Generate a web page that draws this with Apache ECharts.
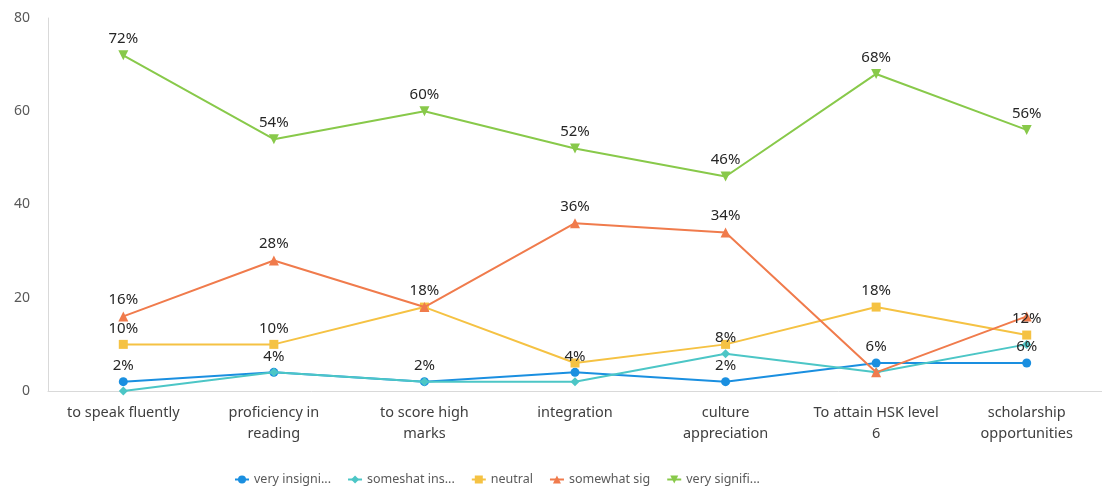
<!DOCTYPE html>
<html>
<head>
<meta charset="utf-8">
<title>Motivation survey</title>
<script src="https://cdn.jsdelivr.net/npm/echarts@6/dist/echarts.min.js"></script>
<style>
  html, body { margin: 0; padding: 0; background: #ffffff; }
  #chart { width: 1102px; height: 488px; }
</style>
</head>
<body>
<div id="chart"></div>
<script>
// Categories along the x axis
const categories = [
  'to speak fluently',
  'proficiency in\nreading',
  'to score high\nmarks',
  'integration',
  'culture\nappreciation',
  'To attain HSK level\n6',
  'scholarship\nopportunities'
];

// Y axis ticks
const yTicks = [0, 20, 40, 60, 80];

// Series names (as shown in the legend)
const seriesNames = ['very insigni...', 'someshat ins...', 'neutral', 'somewhat sig', 'very signifi...'];

// Percent of respondents per category
const veryInsignificant     = [2, 4, 2, 4, 2, 6, 6];
const somewhatInsignificant = [0, 4, 2, 2, 8, 4, 10];
const neutral               = [10, 10, 18, 6, 10, 18, 12];
const somewhatSignificant   = [16, 28, 18, 36, 34, 4, 16];
const verySignificant       = [72, 54, 60, 52, 46, 68, 56];

// Which points carry a value label (1 = shown)
const veryInsignificantLabels     = [1, 1, 1, 1, 1, 1, 1];
const somewhatInsignificantLabels = [0, 0, 0, 0, 1, 0, 0];
const neutralLabels               = [1, 1, 0, 0, 0, 1, 1];
const somewhatSignificantLabels   = [1, 1, 1, 1, 1, 0, 0];
const verySignificantLabels       = [1, 1, 1, 1, 1, 1, 1];

const colors = ['#1a8fe0', '#4cc6c6', '#f5c243', '#f07b4c', '#88c94a'];

const labelStyle = {
  position: 'top',
  distance: 4,
  formatter: p => p.value + '%',
  color: '#262626',
  fontSize: 15,
  fontFamily: 'Noto Sans'
};

function lineSeries(idx, values, symbol, size, rotate) {
  return {
    name: seriesNames[idx],
    type: 'line',
    data: values,
    symbol: symbol,
    symbolSize: size,
    symbolRotate: rotate || 0,
    z: 2 + idx,
    lineStyle: { width: 2, color: colors[idx] },
    itemStyle: { color: colors[idx] },
    emphasis: { disabled: true },
    label: { show: false }
  };
}

// Value labels sit in their own layer above every line and marker
function labelSeries(idx, values, flags, size) {
  return {
    name: seriesNames[idx] + ' labels',
    type: 'scatter',
    data: values.map((v, i) => ({ value: v, label: { show: !!flags[i] } })),
    symbolSize: size,
    z: 20,
    silent: true,
    itemStyle: { color: 'rgba(0,0,0,0)', opacity: 1 },
    emphasis: { disabled: true },
    label: labelStyle
  };
}

const chart = echarts.init(document.getElementById('chart'), null, { renderer: 'canvas' });

chart.setOption({
  animation: false,
  color: colors,
  grid: { left: 48, right: -8, top: 18, bottom: 97, containLabel: false },
  legend: {
    left: 229,
    top: 468,
    itemWidth: 14,
    itemHeight: 10,
    itemGap: 16,
    textStyle: { color: '#595959', fontSize: 12.5, fontFamily: 'Noto Sans' },
    data: seriesNames
  },
  xAxis: {
    type: 'category',
    data: categories,
    boundaryGap: true,
    axisLine: { show: true, lineStyle: { color: '#d9d9d9', width: 1 } },
    axisTick: { show: false },
    axisLabel: {
      interval: 0,
      margin: 11,
      color: '#404040',
      fontSize: 14.5,
      lineHeight: 21,
      fontFamily: 'Noto Sans'
    },
    splitLine: { show: false }
  },
  yAxis: {
    type: 'value',
    min: yTicks[0],
    max: yTicks[yTicks.length - 1],
    interval: yTicks[1] - yTicks[0],
    axisLine: { show: true, lineStyle: { color: '#d9d9d9', width: 1 } },
    axisTick: { show: false },
    axisLabel: {
      margin: 18,
      color: '#595959',
      fontSize: 14,
      fontFamily: 'Noto Sans'
    },
    splitLine: { show: false }
  },
  series: [
    lineSeries(0, veryInsignificant, 'circle', 9),
    lineSeries(1, somewhatInsignificant, 'diamond', 9),
    lineSeries(2, neutral, 'rect', 9),
    lineSeries(3, somewhatSignificant, 'triangle', 10),
    lineSeries(4, verySignificant, 'triangle', 10, 180),
    labelSeries(0, veryInsignificant, veryInsignificantLabels, 9),
    labelSeries(1, somewhatInsignificant, somewhatInsignificantLabels, 9),
    labelSeries(2, neutral, neutralLabels, 9),
    labelSeries(3, somewhatSignificant, somewhatSignificantLabels, 10),
    labelSeries(4, verySignificant, verySignificantLabels, 10)
  ]
});
</script>
</body>
</html>
